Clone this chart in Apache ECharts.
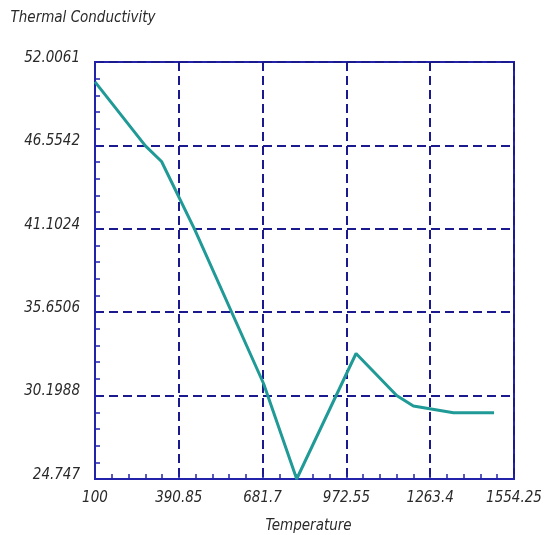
<!DOCTYPE html>
<html>
<head>
<meta charset="utf-8">
<script src="https://cdn.jsdelivr.net/npm/echarts@6/dist/echarts.min.js"></script>
<style>html,body{margin:0;padding:0;background:#fff}#c{width:545px;height:535px}</style>
</head>
<body>
<div id="c"></div>
<script>
const temperatures = [100, 275, 331, 447, 685, 800, 1006, 1147, 1205, 1344, 1485];
const conductivity = [50.71, 46.52, 45.50, 41.02, 30.99, 24.747, 32.95, 30.21, 29.52, 29.08, 29.08];
const xTickLabels = ['100', '390.85', '681.7', '972.55', '1263.4', '1554.25'];
const yTickLabels = ['24.747', '30.1988', '35.6506', '41.1024', '46.5542', '52.0061'];
const xMin = 100, xStep = 290.85;
const yMin = 24.747, yStep = 5.4518;

const axisBlue = '#2222aa';
const gridNavy = '#1a1a8e';
const font = '"Liberation Sans Narrow", "DejaVu Sans Condensed", sans-serif';
const textColor = '#2a2a2a';

const chart = echarts.init(document.getElementById('c'));
chart.setOption({
  animation: false,
  backgroundColor: '#fff',
  grid: { left: 95, right: 31, top: 62, bottom: 56, show: true, borderColor: axisBlue, borderWidth: 2,
    containLabel: false, outerBoundsMode: 'none' },
  xAxis: {
    type: 'value',
    min: xMin, max: xMin + 5 * xStep, interval: xStep,
    name: 'Temperature', nameLocation: 'middle', nameGap: 40,
    nameTextStyle: { fontFamily: font, fontStyle: 'italic', fontSize: 15, color: textColor, padding: [0, 0, 0, 8] },
    axisLine: { lineStyle: { color: axisBlue, width: 2 } },
    axisTick: { show: true, inside: true, length: 5, lineStyle: { color: axisBlue, width: 1.5 } },
    minorTick: { show: true, splitNumber: 5, length: 5, lineStyle: { color: axisBlue, width: 1.5 } },
    splitLine: { show: true, lineStyle: { color: gridNavy, width: 2, type: [9, 5] } },
    axisLabel: { margin: 12, fontFamily: font, fontStyle: 'italic', fontSize: 15, color: textColor,
      formatter: (v, i) => xTickLabels[Math.round((v - xMin) / xStep)] },
  },
  yAxis: {
    type: 'value',
    min: yMin, max: yMin + 5 * yStep, interval: yStep,
    name: 'Thermal Conductivity', nameLocation: 'end', nameGap: 36,
    nameTextStyle: { fontFamily: font, fontStyle: 'italic', fontSize: 15, color: textColor, align: 'center', padding: [0, 24, 0, 0] },
    axisLine: { lineStyle: { color: axisBlue, width: 2 } },
    axisTick: { show: true, inside: true, length: 5, lineStyle: { color: axisBlue, width: 1.5 } },
    minorTick: { show: true, splitNumber: 5, length: 5, lineStyle: { color: axisBlue, width: 1.5 } },
    splitLine: { show: true, lineStyle: { color: gridNavy, width: 2, type: [9, 5] } },
    axisLabel: { margin: 15, verticalAlign: 'bottom', lineHeight: 8, fontFamily: font, fontStyle: 'italic', fontSize: 15, color: textColor,
      formatter: (v, i) => yTickLabels[Math.round((v - yMin) / yStep)] },
  },
  series: [{
    type: 'line',
    data: temperatures.map((t, i) => [t, conductivity[i]]),
    symbol: 'none',
    lineStyle: { color: '#1f9a96', width: 3 },
  }],
});
</script>
</body>
</html>
